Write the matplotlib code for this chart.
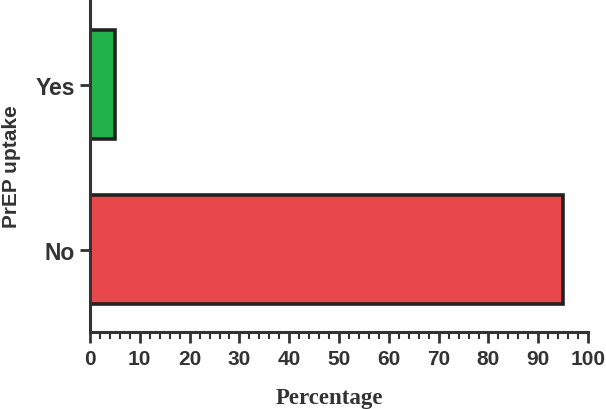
import numpy as np
import matplotlib.pyplot as plt
from matplotlib.ticker import MultipleLocator

categories = ['No', 'Yes']
percent = [95, 5]
colors = ['#e8474c', '#22b24c']

fig = plt.figure(figsize=(6.06, 4.10), dpi=100)
ax = fig.add_axes([0.1485, 0.188, 0.822, 0.812])

y = np.arange(len(categories))
ax.barh(y, percent, height=0.66, color=colors, edgecolor='#222222', linewidth=2.6)

ax.set_xlim(0, 100)
ax.set_ylim(-0.5, 1.52)
ax.set_yticks(y)
ax.set_yticklabels(categories, fontsize=16.5, fontweight='bold', family='Liberation Sans')
ax.xaxis.set_major_locator(MultipleLocator(10))
ax.xaxis.set_minor_locator(MultipleLocator(2))
for lab in ax.get_xticklabels():
    lab.set_fontsize(15)
    lab.set_fontweight('bold')
    lab.set_family('Liberation Sans')
    lab.set_color('#333333')
for lab in ax.get_yticklabels():
    lab.set_color('#333333')

ax.tick_params(axis='x', which='major', length=8, width=2, color='#333333', pad=4)
ax.tick_params(axis='x', which='minor', length=5, width=1.5, color='#333333')
ax.tick_params(axis='y', length=7, width=2, color='#333333', pad=4)

for s in ['top', 'right']:
    ax.spines[s].set_visible(False)
for s in ['left', 'bottom']:
    ax.spines[s].set_linewidth(2.2)
    ax.spines[s].set_color('#333333')

ax.set_xlabel('Percentage', fontsize=16.5, fontweight='bold', family='Liberation Serif',
              color='#333333', labelpad=14)
ax.xaxis.set_label_coords(0.48, -0.165)
ax.set_ylabel('PrEP uptake', fontsize=15, fontweight='bold', family='Liberation Sans',
              color='#333333', labelpad=10)

fig.savefig('out.png', dpi=100)
